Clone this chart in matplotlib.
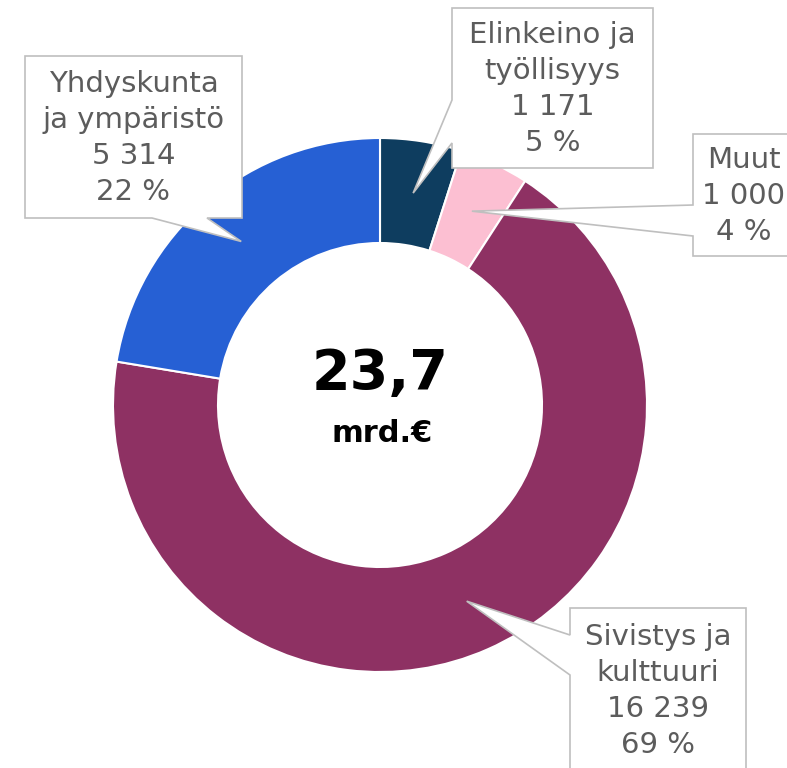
import matplotlib.pyplot as plt
import numpy as np
from matplotlib.patches import Polygon

# data
labels = ['Elinkeino ja\ntyöllisyys', 'Muut', 'Sivistys ja\nkulttuuri', 'Yhdyskunta\nja ympäristö']
values = [1171, 1000, 16239, 5314]
percents = [5, 4, 69, 22]
colors = ['#0e3d5f', '#fcbfd2', '#8e3163', '#2660d4']
total_text = '23,7'
unit_text = 'mrd.€'

# label boxes in pixel coords (x0, y0, x1, y1 from top-left), side of pointer, pointer base
boxes = [(452, 8, 653, 168), (693, 134, 795, 256), (570, 608, 746, 772), (25, 56, 242, 218)]
sides = ['left', 'left', 'left', 'bottom']
bases = [(100, 143), (205, 236), (635, 675), (152, 207)]

W, H = 787, 768
cx, cy = 380, H - 405
r_out, r_in = 267, 162

fig = plt.figure(figsize=(W / 100, H / 100), dpi=100)
ax = fig.add_axes([0, 0, 1, 1])

ax.pie(values, colors=colors, startangle=90, counterclock=False,
       radius=r_out, center=(cx, cy),
       wedgeprops=dict(width=r_out - r_in, edgecolor='white', linewidth=1.5))
ax.set_xlim(0, W)
ax.set_ylim(0, H)
ax.axis('off')

# mid angles (clockwise from top) for the pointer tips
total = sum(values)
cum = np.cumsum([0] + values)
mids = (cum[:-1] + cum[1:]) / 2 / total * 2 * np.pi
r_mid = (r_out + r_in) / 2


def callout(box, side, base, tip):
    x0, y0, x1, y1 = box
    b1, b2 = base
    if side == 'left':
        pts = [(x0, y0), (x1, y0), (x1, y1), (x0, y1), (x0, b2), tip, (x0, b1)]
    else:
        pts = [(x0, y0), (x1, y0), (x1, y1), (b2, y1), tip, (b1, y1), (x0, y1)]
    pts = [(x, H - y) for x, y in pts]
    ax.add_patch(Polygon(pts, closed=True, facecolor='white', edgecolor='#bfbfbf',
                         linewidth=1.2, zorder=5))


for lab, v, p, box, side, base, a in zip(labels, values, percents, boxes, sides, bases, mids):
    tip = (cx + r_mid * np.sin(a), (H - cy) - r_mid * np.cos(a))
    callout(box, side, base, tip)
    txt = lab + '\n' + f'{v:,}'.replace(',', ' ') + '\n' + f'{p} %'
    ax.text((box[0] + box[2]) / 2, H - (box[1] + box[3]) / 2 - 1, txt, ha='center', va='center',
            fontsize=21, color='#5c5c5c', family='DejaVu Sans', linespacing=1.37, zorder=6)

ax.text(cx, H - 374, total_text, ha='center', va='center', fontsize=40,
        fontweight='bold', family='DejaVu Sans', color='black')
ax.text(cx + 2, H - 434, unit_text, ha='center', va='center', fontsize=22,
        fontweight='bold', family='DejaVu Sans', color='black')

fig.savefig('out.png', dpi=100)
